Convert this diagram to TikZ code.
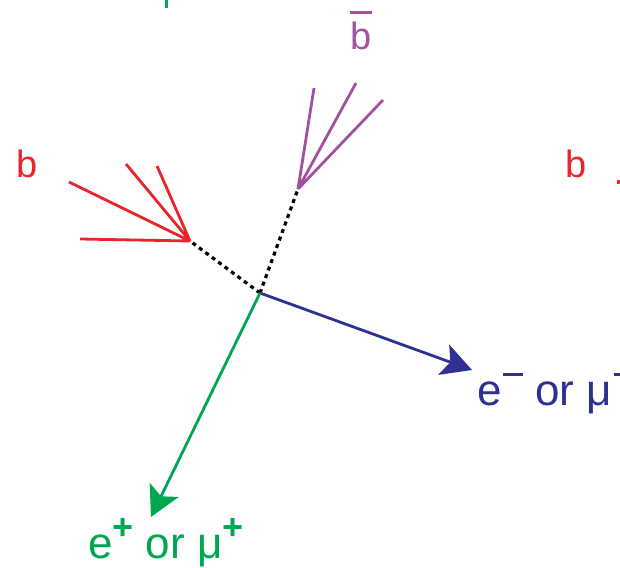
\documentclass[tikz,border=0pt]{standalone}
\usepackage{fontspec}
\setmainfont{Liberation Sans}
\usetikzlibrary{arrows.meta}
\definecolor{jred}{RGB}{234,36,44}
\definecolor{jpurple}{RGB}{163,81,159}
\definecolor{jblue}{RGB}{46,49,146}
\definecolor{jgreen}{RGB}{0,166,81}
\newcommand\supplus{\raisebox{19pt}{\fontsize{36}{36}\selectfont\bfseries +}}
\newcommand\supminus{\hspace{1.5pt}\rule[29pt]{20pt}{3pt}}
\tikzset{
  jet/.style={line width=2.8pt},
  dotline/.style={line width=3.2pt, black, dash pattern=on 4pt off 4pt},
  lep/.style={line width=2.8pt, -{Stealth[length=30pt,width=32pt,inset=7pt]}},
  blabel/.style={inner sep=0pt, anchor=base, font=\fontsize{38}{40}\selectfont},
  llabel/.style={inner sep=0pt, anchor=base west, font=\fontsize{44}{48}\selectfont},
}
\begin{document}
\begin{tikzpicture}[x=1pt,y=-1pt]
\useasboundingbox (0,0) rectangle (620,567);
\clip (0,0) rectangle (620,567);
% vertex and jet apexes
\coordinate (v) at (260,293);
\coordinate (ra) at (190,241);
\coordinate (pa) at (298,189);
% red jet
\coordinate (r1) at (69,182);
\coordinate (r2) at (126,164);
\coordinate (r3) at (157,166);
\coordinate (r4) at (80,239);
\draw[jet, jred] (r1) -- (ra) (r2) -- (ra) (r3) -- (ra) (r4) -- (ra);
% purple jet
\coordinate (p1) at (314,88);
\coordinate (p2) at (356,83);
\coordinate (p3) at (383,100);
\draw[jet, jpurple] (p1) -- (pa) (p2) -- (pa) (p3) -- (pa);
% dotted lines
\draw[dotline] (v) -- (ra);
\draw[dotline] (v) -- (pa);
% leptons
\coordinate (bt) at (472,370);
\coordinate (gt) at (151,517);
\draw[lep, jblue] (v) -- (bt);
\draw[lep, jgreen] (v) -- (gt);
% labels
\node[blabel, text=jred] (bl) at (27,177) {b};
\node[blabel, text=jred] (br) at (576,177) {b};
\node[blabel, text=jpurple] (bb) at (361,50) {\makebox[0pt][l]{\raisebox{36pt}{\rule{22pt}{2.6pt}}}b};
\node[llabel, text=jblue] (em) at (477,405) {e\supminus{} or μ\supminus};
\node[llabel, text=jgreen] (ep) at (88,558) {e\supplus{} or μ\supplus};
% clipped fragments at the edges
\fill[jgreen] (165,0) rectangle (168,8);
\fill[jred] (617,180) rectangle (620,184);
\end{tikzpicture}
\end{document}
